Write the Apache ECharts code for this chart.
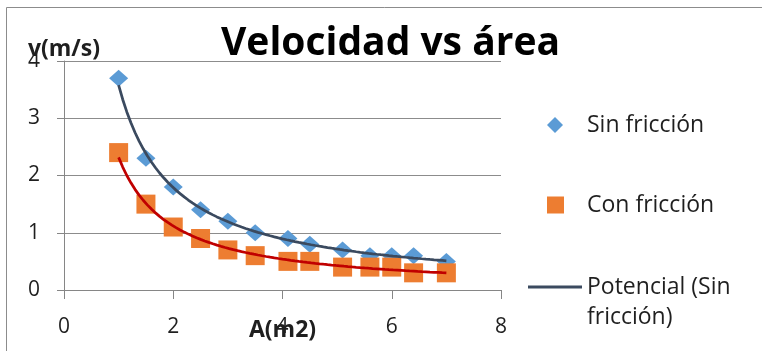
<!DOCTYPE html>
<html>
<head>
<meta charset="utf-8">
<script src="https://cdn.jsdelivr.net/npm/echarts@6/dist/echarts.min.js"></script>
<style>
html,body{margin:0;padding:0;background:#fff;}
#c{width:762px;height:351px;}
</style>
</head>
<body>
<div id="c"></div>
<script>
// Data
const areas = [1, 1.5, 2, 2.5, 3, 3.5, 4.1, 4.5, 5.1, 5.6, 6, 6.4, 7];
const sinFriccion = [3.7, 2.3, 1.8, 1.4, 1.2, 1.0, 0.9, 0.8, 0.7, 0.6, 0.6, 0.6, 0.5];
const conFriccion = [2.4, 1.5, 1.1, 0.9, 0.7, 0.6, 0.5, 0.5, 0.4, 0.4, 0.4, 0.3, 0.3];
const xTickLabels = ['0', '2', '4', '6', '8'];
const yTickLabels = ['0', '1', '2', '3', '4'];
const titleText = 'Velocidad vs área';
const seriesNames = ['Sin fricción', 'Con fricción', 'Potencial (Sin fricción)', 'Potencial (Con fricción)'];

// Power trendline (least squares on ln x, ln y), as a spreadsheet does
function powerFit(xs, ys) {
  const n = xs.length;
  let sx = 0, sy = 0, sxx = 0, sxy = 0;
  for (let i = 0; i < n; i++) {
    const lx = Math.log(xs[i]), ly = Math.log(ys[i]);
    sx += lx; sy += ly; sxx += lx * lx; sxy += lx * ly;
  }
  const b = (n * sxy - sx * sy) / (n * sxx - sx * sx);
  const a = Math.exp((sy - b * sx) / n);
  const xmin = Math.min(...xs), xmax = Math.max(...xs);
  const pts = [];
  const steps = 80;
  for (let k = 0; k <= steps; k++) {
    const x = xmin + (xmax - xmin) * k / steps;
    pts.push([x, a * Math.pow(x, b)]);
  }
  return pts;
}

const pairs = (xs, ys) => xs.map((x, i) => [x, ys[i]]);

const FONT = 'Open Sans';
const TXT = '#1f1f1f';
const chart = echarts.init(document.getElementById('c'), null, {renderer: 'canvas'});
chart.setOption({
  animation: false,
  backgroundColor: '#ffffff',
  textStyle: {fontFamily: FONT},
  graphic: [{
    type: 'rect', silent: true, z: -10,
    shape: {x: 6.5, y: 7.5, width: 900, height: 500},
    style: {fill: 'none', stroke: '#8c8c8c', lineWidth: 1}
  }],
  title: {
    text: titleText, left: 221, top: 24, padding: 0,
    textStyle: {fontFamily: FONT, fontWeight: 'bold', fontSize: 39, color: '#000'}
  },
  grid: {left: 64, top: 61, width: 437, height: 229, containLabel: false, outerBoundsMode: 'none'},
  xAxis: {
    type: 'value', min: 0, max: 8, interval: 2,
    name: 'A(m2)', nameLocation: 'middle', nameGap: 29, nameMoveOverlap: false,
    nameTextStyle: {fontFamily: FONT, fontWeight: 'bold', fontSize: 23, color: TXT},
    axisLine: {show: true, lineStyle: {color: '#868686', width: 1}},
    axisTick: {show: true, length: 9, inside: false, lineStyle: {color: '#868686'}},
    axisLabel: {
      margin: 27, fontSize: 21, color: TXT, fontFamily: FONT,
      formatter: v => xTickLabels[Math.round(v / 2)]
    },
    splitLine: {show: false}
  },
  yAxis: {
    type: 'value', min: 0, max: 4, interval: 1,
    name: 'v(m/s)', nameLocation: 'end', nameGap: 0, nameMoveOverlap: false,
    nameTextStyle: {fontFamily: FONT, fontWeight: 'bold', fontSize: 23, color: TXT, align: 'center'},
    axisLine: {show: true, lineStyle: {color: '#868686', width: 1}},
    axisTick: {show: true, length: 7, inside: false, lineStyle: {color: '#868686'}},
    axisLabel: {
      margin: 24, fontSize: 21, color: TXT, fontFamily: FONT,
      formatter: v => yTickLabels[Math.round(v)]
    },
    splitLine: {show: true, lineStyle: {color: '#8c8c8c', width: 1}}
  },
  legend: [
    {
      data: [seriesNames[0]], orient: 'vertical', left: 547, top: 111, padding: 0,
      itemWidth: 16, itemHeight: 16,
      textStyle: {fontFamily: FONT, fontSize: 23, lineHeight: 28, color: TXT, padding: [0, 0, 0, 19]}
    },
    {
      data: [seriesNames[1]], orient: 'vertical', left: 547, top: 191, padding: 0,
      itemWidth: 17, itemHeight: 17,
      textStyle: {fontFamily: FONT, fontSize: 23, lineHeight: 28, color: TXT, padding: [0, 0, 0, 18]}
    },
    {
      data: [{name: seriesNames[2], icon: 'rect'}], orient: 'vertical', left: 528, top: 242, padding: 0,
      itemWidth: 54, itemHeight: 3,
      formatter: () => '\nPotencial (Sin\nfricción)',
      textStyle: {fontFamily: FONT, fontSize: 23, lineHeight: 30, color: TXT}
    }
  ],
  series: [
    {
      name: seriesNames[0], type: 'scatter', data: pairs(areas, sinFriccion),
      symbol: 'diamond', symbolSize: [19, 17],
      itemStyle: {color: '#5B9BD5', opacity: 1}, z: 2
    },
    {
      name: seriesNames[1], type: 'scatter', data: pairs(areas, conFriccion),
      symbol: 'rect', symbolSize: 19,
      itemStyle: {color: '#ED7D31', opacity: 1}, z: 2
    },
    {
      name: seriesNames[2], type: 'line', data: powerFit(areas, sinFriccion),
      symbol: 'none', smooth: false,
      lineStyle: {color: '#3B4A5F', width: 2.75}, itemStyle: {color: '#3B4A5F'}, z: 3
    },
    {
      name: seriesNames[3], type: 'line', data: powerFit(areas, conFriccion),
      symbol: 'none', smooth: false,
      lineStyle: {color: '#C00000', width: 2.75}, itemStyle: {color: '#C00000'}, z: 3
    }
  ]
});
</script>
</body>
</html>
